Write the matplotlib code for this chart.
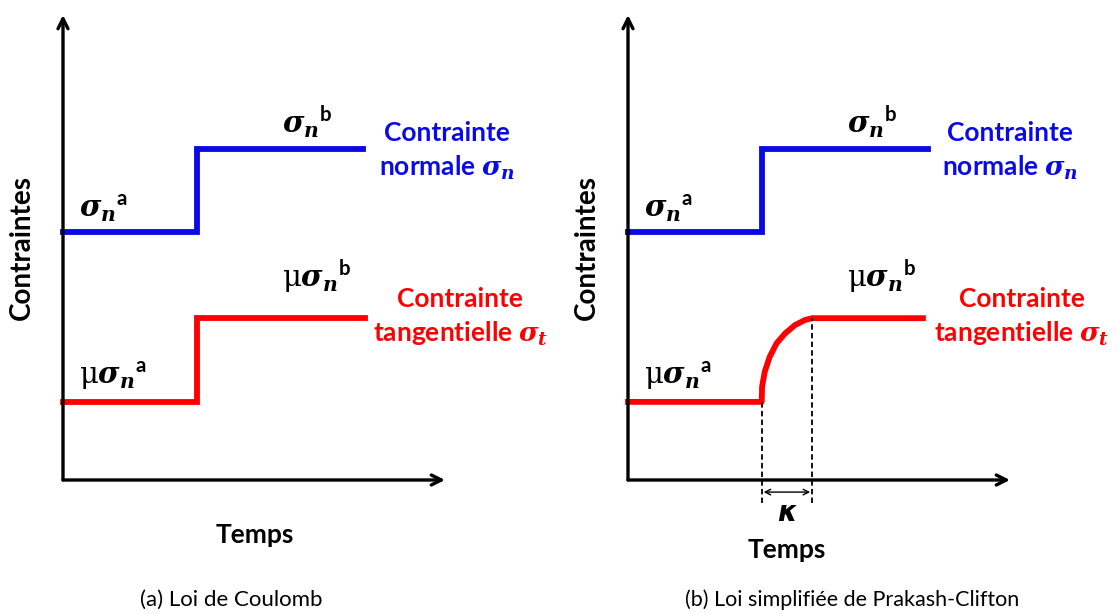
import matplotlib
matplotlib.use("Agg")
import matplotlib.pyplot as plt

plt.rcParams['font.family'] = ['Lato', 'DejaVu Sans']
plt.rcParams['mathtext.fontset'] = 'custom'
plt.rcParams['mathtext.it'] = 'DejaVu Serif:italic:bold'
plt.rcParams['mathtext.rm'] = 'Lato:bold'
plt.rcParams['mathtext.sf'] = 'Lato:bold'

# step times and stress levels (arbitrary units)
t_step = 3.5
t_end_a = [7.85, 7.9]           # blue, red end for (a)
t_end_b = [7.85, 7.72]          # blue, red end for (b)
sig_a, sig_b = 5.33, 7.12       # normal stress before / after
tau_a, tau_b = 1.68, 3.48       # tangential stress before / after
kappa = 4.82                    # end of transition in (b)

# transition curve of (b)
curve_t = [3.50, 3.51, 3.58, 3.71, 3.89, 4.11, 4.37, 4.63, 4.82]
curve_s = [1.68, 2.01, 2.33, 2.65, 2.94, 3.15, 3.33, 3.44, 3.48]

blue = '#0a0ae6'
red = '#ff0000'

fig = plt.figure(figsize=(11.18, 6.14), dpi=100)
axa = fig.add_axes([63/1118, 134/614, 382/1118, 465/614])
axb = fig.add_axes([628/1118, 134/614, 382/1118, 465/614])

for ax in (axa, axb):
    ax.set_xlim(0, 10)
    ax.set_ylim(0, 10)
    ax.axis('off')
    ax.annotate('', xy=(10, 0), xytext=(0, 0),
                arrowprops=dict(arrowstyle='->', lw=2.4, color='black',
                                mutation_scale=18, shrinkA=0, shrinkB=0),
                annotation_clip=False)
    ax.annotate('', xy=(0, 10), xytext=(0, 0),
                arrowprops=dict(arrowstyle='->', lw=2.4, color='black',
                                mutation_scale=18, shrinkA=0, shrinkB=0),
                annotation_clip=False)
    ax.text(-1.07, 4.99, 'Contraintes', rotation=90, ha='center', va='center',
            fontsize=20, fontweight='bold')

# (a) Coulomb
axa.plot([0, t_step, t_step, t_end_a[0]], [sig_a, sig_a, sig_b, sig_b],
         color=blue, lw=4.2, solid_joinstyle='miter', clip_on=False)
axa.plot([0, t_step, t_step, t_end_a[1]], [tau_a, tau_a, tau_b, tau_b],
         color=red, lw=4.2, solid_joinstyle='miter', clip_on=False)

# (b) Prakash-Clifton
axb.plot([0, t_step, t_step, t_end_b[0]], [sig_a, sig_a, sig_b, sig_b],
         color=blue, lw=4.2, solid_joinstyle='miter', clip_on=False)
axb.plot([0] + curve_t + [t_end_b[1]], [tau_a] + curve_s + [tau_b],
         color=red, lw=4.2, solid_joinstyle='round', clip_on=False)
axb.plot([t_step, t_step], [-0.5, tau_a], color='black', lw=1.3,
         ls=(0, (3, 1.8)), clip_on=False)
axb.plot([kappa, kappa], [-0.5, tau_b], color='black', lw=1.3,
         ls=(0, (3, 1.8)), clip_on=False)
axb.annotate('', xy=(kappa - 0.05, -0.26), xytext=(t_step + 0.05, -0.26),
             arrowprops=dict(arrowstyle='<->', lw=1.0, color='black',
                             shrinkA=0, shrinkB=0), annotation_clip=False)
axb.text((t_step + kappa) / 2, -0.71, 'κ', ha='center', va='center',
         fontsize=20, fontweight='bold', fontstyle='italic',
         family='DejaVu Sans')

lab_a = r'$\sigma_n{}^{\mathsf{a}}$'
lab_b = r'$\sigma_n{}^{\mathsf{b}}$'
mlab_a = r'μ$\sigma_n{}^{\mathsf{a}}$'
mlab_b = r'μ$\sigma_n{}^{\mathsf{b}}$'

for ax, xb, xr, tx, ty in ((axa, 10.05, 10.4, 5.03, -1.18),
                           (axb, 10.0, 10.31, 4.16, -1.5)):
    ax.text(0.42, 5.5, lab_a, fontsize=21, va='bottom', ha='left')
    ax.text(5.73, 7.3, lab_b, fontsize=21, va='bottom', ha='left')
    ax.text(0.42, 1.9, mlab_a, fontsize=21, va='bottom', ha='left',
            family='DejaVu Serif')
    ax.text(5.73, 3.95, mlab_b, fontsize=21, va='bottom', ha='left',
            family='DejaVu Serif')
    ax.text(xb, 7.07, 'Contrainte\nnormale ' + r'$\sigma_n$', color=blue,
            fontsize=19, fontweight='bold', ha='center', va='center',
            linespacing=1.4)
    ax.text(xr, 3.5, 'Contrainte\ntangentielle ' + r'$\sigma_t$', color=red,
            fontsize=19, fontweight='bold', ha='center', va='center',
            linespacing=1.4)
    ax.text(tx, ty, 'Temps', fontsize=19, fontweight='bold',
            ha='center', va='center')

fig.text(231/1118, 1 - 600/614, '(a) Loi de Coulomb', fontsize=16,
         ha='center', va='center')
fig.text(852/1118, 1 - 600/614, '(b) Loi simplifiée de Prakash-Clifton',
         fontsize=15.5, ha='center', va='center')

fig.savefig('out.png', dpi=100)
